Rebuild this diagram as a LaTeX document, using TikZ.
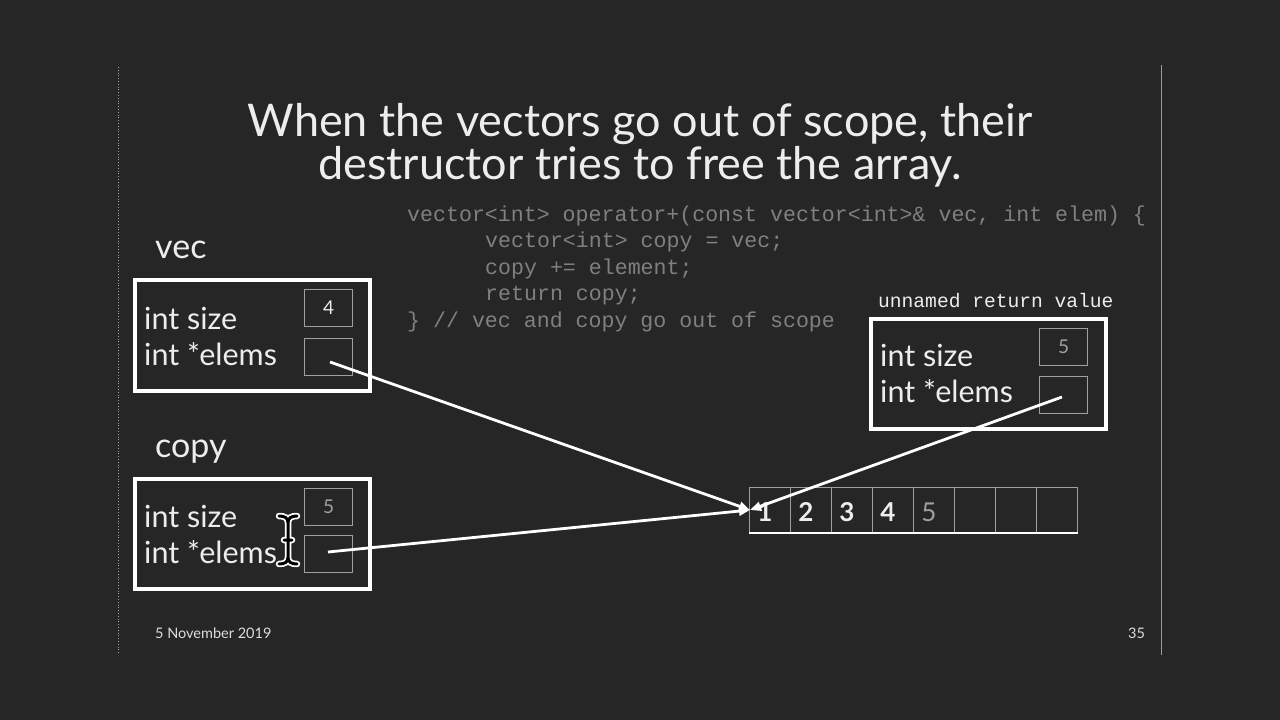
\documentclass[tikz,border=0pt]{standalone}
\usepackage{fontspec}
\setmainfont{Lato}
\newfontfamily\codefont{Liberation Mono}
\usetikzlibrary{arrows.meta}
\definecolor{bg}{HTML}{262626}
\definecolor{fg}{HTML}{EDEDED}
\definecolor{codegray}{HTML}{808080}
\definecolor{boxgray}{HTML}{A0A0A0}
\begin{document}
\begin{tikzpicture}[x=1pt,y=-1pt,
  title/.style={text=fg,font=\fontsize{45}{52}\selectfont,anchor=base,inner sep=0pt},
  codeline/.style={text=codegray,font=\codefont\fontsize{21.6}{26}\selectfont,anchor=base west,inner sep=0pt},
  varlabel/.style={text=fg,font=\fontsize{34}{40}\selectfont,anchor=base west,inner sep=0pt},
  field/.style={text=fg,font=\fontsize{30.5}{36}\selectfont,anchor=base west,inner sep=0pt},
  outerbox/.style={draw=white,line width=3.5pt},
  cell/.style={draw=boxgray,line width=1.2pt,minimum width=48pt,minimum height=37pt,inner sep=0pt,anchor=north west,font=\fontsize{19}{22}\selectfont},
  acell/.style={draw=boxgray,line width=1.2pt,minimum width=41pt,minimum height=45pt,inner sep=0pt,anchor=north west},
  anum/.style={font=\bfseries\fontsize{26}{30}\selectfont,text=fg},
  ptr/.style={draw=white,line width=2.8pt,-{Triangle[length=11pt,width=9pt]}},
  footer/.style={text=fg!85!gray,font=\fontsize{14.5}{17}\selectfont,anchor=base west,inner sep=0pt}
]
\fill[bg] (0,0) rectangle (1280,720);
\useasboundingbox (0,0) rectangle (1280,720);
% side rules
\draw[gray!70,line width=0.8pt,dotted] (118,67) -- (118,655);
\draw[gray!80,line width=1pt] (1161,65) -- (1161,655);
% title
\node[title] (t1) at (640,136) {When the vectors go out of scope, their};
\node[title] (t2) at (640,179) {destructor tries to free the array.};
% code
\node[codeline] (c1) at (407,221) {vector<int> operator+(const vector<int>\& vec, int elem) \{};
\node[codeline] (c2) at (485,247.5) {vector<int> copy = vec;};
\node[codeline] (c3) at (485,274) {copy += element;};
\node[codeline] (c4) at (485,300.5) {return copy;};
\node[codeline] (c5) at (407,327) {\} // vec and copy go out of scope};
% vec
\node[varlabel] (veclbl) at (155,258) {vec};
\draw[outerbox] (135,280) rectangle (370,391);
\node[field] (vsize) at (144,329) {int size};
\node[field] (velems) at (144,365) {int *elems};
\node[cell,text=fg] (vsizebox) at (304,289) {4};
\node[cell] (velemsbox) at (304,338) {};
% copy
\node[varlabel] (copylbl) at (155,457) {copy};
\draw[outerbox] (135,479) rectangle (370,589);
\node[field] (csize) at (144,527) {int size};
\node[field] (celems) at (144,563) {int *elems};
\node[cell,text=boxgray] (csizebox) at (304,488) {5};
\node[cell] (celemsbox) at (304,535) {};
% return value
\node[text=fg,font=\codefont\fontsize{19.6}{24}\selectfont,anchor=base west,inner sep=0pt] (retlbl) at (878,307) {unnamed return value};
\draw[outerbox] (871,319) rectangle (1106,429);
\node[field] (rsize) at (880,366) {int size};
\node[field] (relems) at (880,402) {int *elems};
\node[cell,text=boxgray] (rsizebox) at (1039,328) {5};
\node[cell] (relemsbox) at (1039,376) {};
% array
\foreach \i in {0,...,7}{
  \node[acell] (a\i) at ({749+41*\i},487) {};
}
\foreach \i/\v in {0/1,1/2,2/3,3/4}{
  \node[anum,anchor=base] (n\i) at ({765+41*\i},521) {\v};
}
\node[anum,anchor=base,text=boxgray,font=\fontsize{26}{30}\selectfont] (n4) at ({765+41*4},521) {5};
\draw[white,line width=2pt] (a0.south west) -- (a7.south east);
% pointers
\coordinate (vp) at (330,362);
\coordinate (cp) at (328,552);
\coordinate (rp) at (1062,397);
\coordinate (tgt) at (750,510);
\draw[ptr] (vp) -- (tgt);
\draw[ptr] (cp) -- (tgt);
\draw[ptr] (rp) -- (tgt);
% mouse cursor (I-beam)
\foreach \w/\c in {6.5/white,3/black}{
  \draw[line width=\w pt,\c,line cap=round]
    (279,516) .. controls (285,516) and (288,518) .. (288,523) -- (288,557) .. controls (288,562) and (285,564) .. (279,564)
    (297,516) .. controls (291,516) and (288,518) .. (288,523)
    (288,557) .. controls (288,562) and (291,564) .. (297,564)
    (284,540) -- (292,540);
}
% footer
\node[footer] (date) at (155,638) {5 November 2019};
\node[footer] (pg) at (1128,638) {35};
\end{tikzpicture}
\end{document}
